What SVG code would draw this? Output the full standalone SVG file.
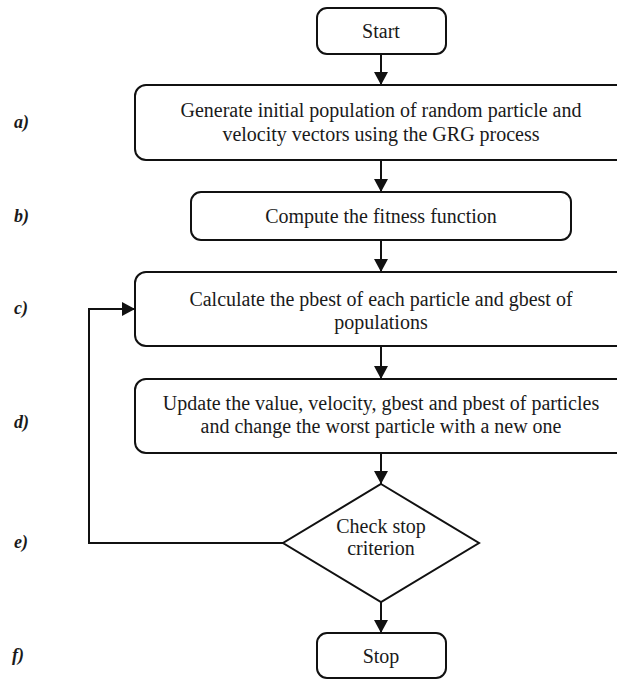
<svg xmlns="http://www.w3.org/2000/svg" width="617" height="679" viewBox="0 0 617 679">
<defs>
<style>
.box{fill:#fff;stroke:#111;stroke-width:2}
.t{font-family:"Liberation Serif","Times New Roman",serif;font-size:20px;fill:#1a1a1a;text-anchor:middle}
.lbl{font-family:"Liberation Serif","Times New Roman",serif;font-size:18px;font-weight:bold;font-style:italic;fill:#1a1a1a}
.c{fill:none;stroke:#111;stroke-width:2}
</style>
<marker id="ah" markerUnits="userSpaceOnUse" markerWidth="14" markerHeight="14" refX="13" refY="7" orient="auto">
<path d="M0,0 L13,7 L0,14 Z" fill="#111"/>
</marker>
</defs>
<rect width="617" height="679" fill="#fff"/>
<g id="labels">
<text class="lbl" x="14" y="128">a)</text>
<text class="lbl" x="14" y="222">b)</text>
<text class="lbl" x="14" y="314">c)</text>
<text class="lbl" x="14" y="428">d)</text>
<text class="lbl" x="14" y="548">e)</text>
<text class="lbl" x="12" y="661">f)</text>
</g>
<g id="connectors">
<line class="c" x1="381" y1="54" x2="381" y2="85" marker-end="url(#ah)"/>
<line class="c" x1="381" y1="160" x2="381" y2="192" marker-end="url(#ah)"/>
<line class="c" x1="381" y1="240" x2="381" y2="272" marker-end="url(#ah)"/>
<line class="c" x1="381" y1="346" x2="381" y2="379" marker-end="url(#ah)"/>
<line class="c" x1="381" y1="453" x2="381" y2="484" marker-end="url(#ah)"/>
<line class="c" x1="381" y1="602" x2="381" y2="633" marker-end="url(#ah)"/>
<polyline class="c" points="283,543 89,543 89,309 135,309" marker-end="url(#ah)"/>
</g>
<g id="start">
<rect class="box" x="317" y="8" width="129" height="46" rx="10"/>
<text class="t" x="381" y="38">Start</text>
</g>
<g id="step-a">
<rect class="box" x="135" y="85" width="492" height="75" rx="11"/>
<text class="t" x="381" y="117">Generate initial population of random particle and</text>
<text class="t" x="381" y="141">velocity vectors using the GRG process</text>
</g>
<g id="step-b">
<rect class="box" x="191" y="192" width="380" height="48" rx="10"/>
<text class="t" x="381" y="223">Compute the fitness function</text>
</g>
<g id="step-c">
<rect class="box" x="135" y="272" width="492" height="74" rx="11"/>
<text class="t" x="381" y="306">Calculate the pbest of each particle and gbest of</text>
<text class="t" x="381" y="329">populations</text>
</g>
<g id="step-d">
<rect class="box" x="135" y="379" width="492" height="74" rx="11"/>
<text class="t" x="381" y="410">Update the value, velocity, gbest and pbest of particles</text>
<text class="t" x="381" y="433">and change the worst particle with a new one</text>
</g>
<g id="step-e">
<polygon class="box" points="381,484 479,543 381,602 283,543"/>
<text class="t" x="381" y="533">Check stop</text>
<text class="t" x="381" y="555">criterion</text>
</g>
<g id="stop">
<rect class="box" x="317" y="633" width="129" height="45" rx="10"/>
<text class="t" x="381" y="663">Stop</text>
</g>
</svg>
